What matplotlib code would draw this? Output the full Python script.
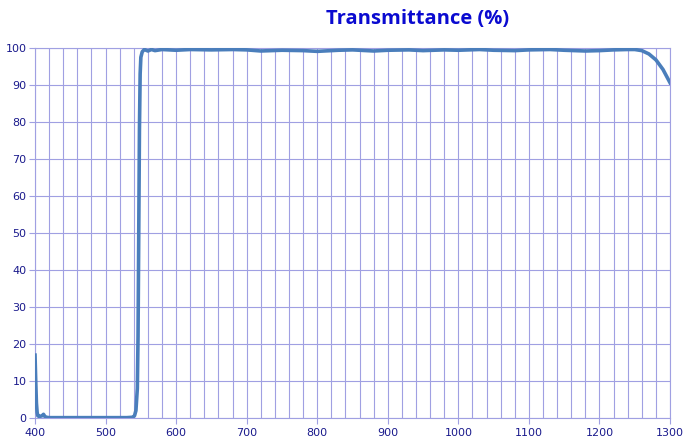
import matplotlib
matplotlib.use("Agg")
import matplotlib.pyplot as plt
from matplotlib.ticker import MultipleLocator

# wavelength (nm) and transmittance (%)
wavelength = [400, 401, 402, 403, 404, 406, 408, 410, 412, 414, 416, 420,
              450, 500, 530, 538, 541, 543, 545, 546, 547, 548, 549, 550,
              552, 555, 560, 565, 570, 580, 600, 620, 650, 680, 700, 720,
              750, 780, 800, 830, 850, 880, 900, 930, 950, 980, 1000, 1030,
              1050, 1080, 1100, 1130, 1150, 1180, 1200, 1220, 1240, 1250,
              1260, 1270, 1280, 1290, 1300]
transmittance = [17, 10, 4, 1.5, 0.6, 0.4, 0.5, 0.6, 1.0, 0.4, 0.2, 0.1,
                 0.1, 0.1, 0.1, 0.2, 0.6, 2, 8, 22, 50, 78, 93, 97.5,
                 99.0, 99.6, 99.2, 99.6, 99.3, 99.6, 99.4, 99.6, 99.5, 99.6, 99.5, 99.2,
                 99.4, 99.3, 99.1, 99.4, 99.5, 99.2, 99.4, 99.5, 99.3, 99.5, 99.4, 99.6,
                 99.4, 99.3, 99.5, 99.6, 99.4, 99.2, 99.3, 99.5, 99.6, 99.6,
                 99.3, 98.4, 96.8, 94.2, 90.6]

fig = plt.figure(figsize=(6.84, 4.43), dpi=100)
ax = fig.add_axes([0.0512, 0.0564, 0.9284, 0.8352])

grid_col = "#a0a0e2"
ax.plot(wavelength, transmittance, color="#4a7ebb", linewidth=2.6,
        solid_joinstyle="round", zorder=3)

ax.set_xlim(400, 1300)
ax.set_ylim(0, 100)
ax.xaxis.set_major_locator(MultipleLocator(100))
ax.xaxis.set_minor_locator(MultipleLocator(20))
ax.yaxis.set_major_locator(MultipleLocator(10))
ax.grid(True, which="both", axis="x", color=grid_col, linewidth=0.8)
ax.grid(True, which="major", axis="y", color=grid_col, linewidth=0.8)
ax.set_axisbelow(True)

for s in ax.spines.values():
    s.set_color(grid_col)
    s.set_linewidth(0.8)

ax.tick_params(axis="both", which="major", colors=grid_col, labelcolor="#1a1a8c",
               labelsize=8, length=4, width=0.8)
ax.tick_params(axis="x", which="minor", length=0)
ax.tick_params(axis="x", pad=3)
ax.tick_params(axis="y", pad=2)

fig.text(0.611, 0.958, "Transmittance (%)", ha="center", va="center",
         fontsize=14.5, fontweight="bold", color="#0a0ad0",
         family=["Open Sans", "DejaVu Sans"])

fig.savefig("out.png", dpi=100)
